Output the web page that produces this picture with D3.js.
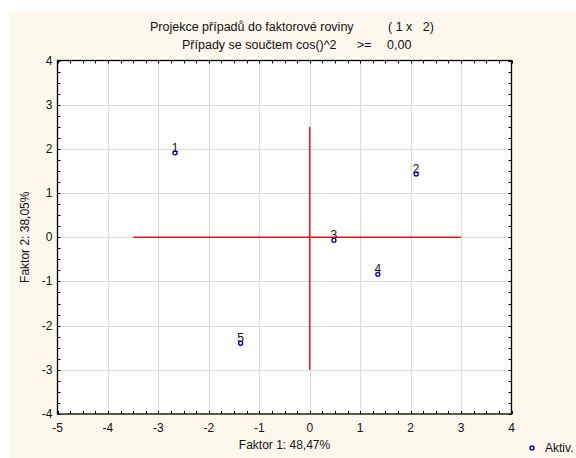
<!DOCTYPE html>
<html lang="cs">
<head>
    <meta charset="UTF-8">
    <title>Projekce případů</title>
    <script src="https://d3js.org/d3.v7.min.js"></script>
    <style>
        body { margin: 0; background: #fff; }
        svg text { font-family: "Liberation Sans", Arial, sans-serif; fill: #111; }
    </style>
</head>
<body>
<svg id="chart" width="576" height="458"></svg>

<script>
    // case labels and coordinates (factor 1, factor 2)
    var caseLabels = ["1", "2", "3", "4", "5"];
    var factor1 = [-2.67, 2.11, 0.48, 1.35, -1.37];
    var factor2 = [1.91, 1.43, -0.07, -0.84, -2.40];

    // red cross (origin lines)
    var crossX = [-3.5, 3];
    var crossY = [-3, 2.5];

    var xTicks = [-5, -4, -3, -2, -1, 0, 1, 2, 3, 4];
    var yTicks = [-4, -3, -2, -1, 0, 1, 2, 3, 4];

    // title pieces: [text, x, line]
    var titleParts = [
        ["Projekce případů do faktorové roviny", 150, 0],
        ["( 1 x   2)", 388, 0],
        ["Případy se součtem cos()^2", 182, 1],
        [">=", 357, 1],
        ["0,00", 387, 1]
    ];
    var xLabel = "Faktor 1: 48,47%";
    var yLabel = "Faktor 2: 38,05%";
    var legendLabel = "Aktiv.";

    var svg = d3.select("#chart");
    var margin = {top: 60.5, left: 57.5, right: 64.5, bottom: 44};
    var W = 576, H = 458;

    svg.append("rect").attr("x", 9).attr("y", 12).attr("width", W - 9).attr("height", H - 12)
        .attr("fill", "#fdf8ec");

    var x = d3.scaleLinear().domain([-5, 4]).range([margin.left, W - margin.right]);
    var y = d3.scaleLinear().domain([-4, 4]).range([H - margin.bottom, margin.top]);

    svg.append("rect")
        .attr("x", x(-5)).attr("y", y(4))
        .attr("width", x(4) - x(-5)).attr("height", y(-4) - y(4))
        .attr("fill", "#fff");

    // grid
    svg.append("g").selectAll("line").data(xTicks.slice(1, -1)).join("line")
        .attr("x1", d => Math.round(x(d)) + 0.5).attr("x2", d => Math.round(x(d)) + 0.5)
        .attr("y1", y(4)).attr("y2", y(-4))
        .attr("stroke", "#dcdcdc").attr("stroke-width", 1.2);
    svg.append("g").selectAll("line").data(yTicks.slice(1, -1)).join("line")
        .attr("y1", d => Math.round(y(d)) + 0.5).attr("y2", d => Math.round(y(d)) + 0.5)
        .attr("x1", x(-5)).attr("x2", x(4))
        .attr("stroke", "#dcdcdc").attr("stroke-width", 1.2);

    // minor ticks every 0.25, inward on all four sides
    var minorX = d3.range(-5, 4.001, 0.25);
    var minorY = d3.range(-4, 4.001, 0.25);
    var tk = svg.append("g").attr("stroke", "#000").attr("stroke-width", 1);
    tk.selectAll(".tb").data(minorX).join("line").attr("class", "tb")
        .attr("x1", d => Math.round(x(d)) + 0.5).attr("x2", d => Math.round(x(d)) + 0.5)
        .attr("y1", y(-4)).attr("y2", y(-4) - 3);
    tk.selectAll(".tt").data(minorX).join("line").attr("class", "tt")
        .attr("x1", d => Math.round(x(d)) + 0.5).attr("x2", d => Math.round(x(d)) + 0.5)
        .attr("y1", y(4)).attr("y2", y(4) + 3);
    tk.selectAll(".tl").data(minorY).join("line").attr("class", "tl")
        .attr("y1", d => Math.round(y(d)) + 0.5).attr("y2", d => Math.round(y(d)) + 0.5)
        .attr("x1", x(-5)).attr("x2", x(-5) + 3);
    tk.selectAll(".tr").data(minorY).join("line").attr("class", "tr")
        .attr("y1", d => Math.round(y(d)) + 0.5).attr("y2", d => Math.round(y(d)) + 0.5)
        .attr("x1", x(4)).attr("x2", x(4) - 3);

    // frame
    svg.append("rect")
        .attr("x", x(-5)).attr("y", y(4))
        .attr("width", x(4) - x(-5)).attr("height", y(-4) - y(4))
        .attr("fill", "none").attr("stroke", "#000").attr("stroke-width", 1.3);

    // tick labels
    svg.append("g").selectAll("text").data(xTicks).join("text")
        .attr("x", d => x(d)).attr("y", y(-4) + 18)
        .attr("text-anchor", "middle").attr("font-size", 12)
        .text(d => d < 0 ? "-" + Math.abs(d) : d);
    svg.append("g").selectAll("text").data(yTicks).join("text")
        .attr("x", x(-5) - 5).attr("y", d => y(d) + 4)
        .attr("text-anchor", "end").attr("font-size", 12)
        .text(d => d < 0 ? "-" + Math.abs(d) : d);

    // red cross
    svg.append("line")
        .attr("x1", x(crossX[0])).attr("x2", x(crossX[1]))
        .attr("y1", y(0)).attr("y2", y(0))
        .attr("stroke", "#ff1010").attr("stroke-width", 1.5);
    svg.append("line")
        .attr("x1", x(0)).attr("x2", x(0))
        .attr("y1", y(crossY[0])).attr("y2", y(crossY[1]))
        .attr("stroke", "#ff1010").attr("stroke-width", 1.5);

    // points
    var pts = svg.append("g");
    pts.selectAll("circle").data(caseLabels).join("circle")
        .attr("cx", (d, i) => x(factor1[i])).attr("cy", (d, i) => y(factor2[i]))
        .attr("r", 2).attr("fill", "#fff").attr("stroke", "#0000f0").attr("stroke-width", 1.4);
    pts.selectAll("text").data(caseLabels).join("text")
        .attr("x", (d, i) => x(factor1[i])).attr("y", (d, i) => y(factor2[i]) - 1)
        .attr("text-anchor", "middle").attr("font-size", 12)
        .text(d => d);

    // titles
    svg.append("g").selectAll("text").data(titleParts).join("text")
        .attr("x", d => d[1]).attr("y", d => 31 + d[2] * 18)
        .attr("font-size", 12.5)
        .style("white-space", "pre")
        .text(d => d[0]);

    svg.append("text").attr("x", (x(-5) + x(4)) / 2).attr("y", 449)
        .attr("text-anchor", "middle").attr("font-size", 12).text(xLabel);
    svg.append("text")
        .attr("transform", "translate(29," + y(0) + ") rotate(-90)")
        .attr("text-anchor", "middle").attr("font-size", 12).text(yLabel);

    // legend
    svg.append("circle").attr("cx", 532).attr("cy", 448).attr("r", 2)
        .attr("fill", "#fff").attr("stroke", "#0000f0").attr("stroke-width", 1.4);
    svg.append("text").attr("x", 545).attr("y", 452).attr("font-size", 12).text(legendLabel);
</script>
</body>
</html>
